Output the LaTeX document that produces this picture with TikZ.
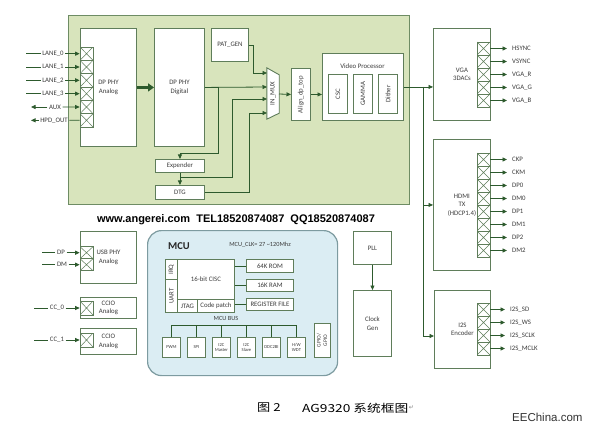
\documentclass[tikz,border=0pt]{standalone}
\usepackage{fontspec}
\setmainfont{Carlito}
\newfontfamily\wmfont{Liberation Sans}
\newfontfamily\cjk{Noto Sans CJK SC}
\newfontfamily\symfont{DejaVu Sans}
\usetikzlibrary{arrows.meta}
\definecolor{boxc}{RGB}{95,125,90}
\definecolor{arrc}{RGB}{45,90,45}
\definecolor{greenfill}{RGB}{216,228,188}
\definecolor{greenedge}{RGB}{110,140,100}
\definecolor{mcufill}{RGB}{219,237,243}
\definecolor{mcuedge}{RGB}{125,155,160}
\definecolor{txt}{RGB}{60,60,60}
\tikzset{
  blk/.style={draw=boxc, fill=white, line width=0.9pt, anchor=north west, inner sep=0pt,
    align=center, font=\fontsize{6.8}{8.5}\selectfont, text=txt},
  cell/.style={draw=boxc, fill=white, line width=0.7pt, minimum width=13pt, minimum height=#1,
    inner sep=0pt, path picture={\draw[boxc, line width=0.5pt]
      (path picture bounding box.north west) -- (path picture bounding box.south east)
      (path picture bounding box.north east) -- (path picture bounding box.south west);}},
  cell/.default=13pt,
  arr/.style={draw=arrc, line width=0.8pt, -{Triangle[length=4.5pt,width=4pt]}},
  ln/.style={draw=arrc, line width=0.8pt},
  lbl/.style={font=\fontsize{6.8}{8}\selectfont, text=txt, inner xsep=1.5pt, inner ysep=1pt},
  rlbl/.style={lbl, anchor=west, inner xsep=5pt},
  tiny/.style={font=\fontsize{4.6}{5.4}\selectfont},
}
\newcommand\bx[7][]{\node[blk, minimum width={(#5-#3)*1pt}, minimum height={(#6-#4)*1pt}, #1] (#2) at (#3,#4) {#7};}
\begin{document}
\begin{tikzpicture}[x=1pt,y=-1pt]
\useasboundingbox[fill=white] (0,0) rectangle (593,430);

% ---------- main green block ----------
\bx[draw=greenedge, fill=greenfill, line width=1.4pt]{main}{68}{15}{409}{204}{}
\bx{pa}{80}{28}{136}{146}{DP PHY\\Analog}
\bx{pd}{154}{28}{204}{146}{DP PHY\\Digital}
\bx{pat}{211}{28}{248}{61}{PAT\_GEN}
\bx{exp}{155}{159}{204}{172}{Expender}
\bx{dtg}{155}{185}{204}{199}{DTG}
\bx{al}{291}{68}{310}{120}{\rotatebox{90}{Align\_dp\_top}}
\bx{vp}{322}{53}{403}{120}{}
\node[lbl] (vpt) at (362.5,66) {Video Processor};
\bx{csc}{328}{74}{347}{113}{\rotatebox{90}{CSC}}
\bx{gam}{353}{74}{372}{113}{\rotatebox{90}{GAMMA}}
\bx{dit}{378}{74}{397}{113}{\rotatebox{90}{Dither}}

% mux
\node[minimum width=12pt, minimum height=51pt, inner sep=0pt] (mux) at (273,93.5) {};
\draw[draw=boxc, fill=white, line width=0.9pt] (mux.north west) -- ([yshift=-7pt]mux.north east)
  -- ([yshift=6pt]mux.south east) -- (mux.south west) -- cycle;
\node[lbl, rotate=90] (muxt) at (mux.center) {IN\_MUX};
\coordinate (mi1) at (267,73);
\coordinate (mi2) at (267,87);
\coordinate (mi3) at (267,99);
\coordinate (mi4) at (267,113);
\coordinate (mo) at (279,94);

% DP PHY ports
\foreach \i in {0,...,5} \node[cell=13.33pt] (pc\i) at (86.5,{53.67+13.33*\i}) {};
\foreach \i/\t in {0/LANE\_0,1/LANE\_1,2/LANE\_2,3/LANE\_3}{
  \coordinate (ls\i) at (26,{53.67+13.33*\i});
  \node[lbl] (la\i) at (53,{53.67+13.33*\i}) {\t};
  \draw[ln] (ls\i) -- (la\i.west);
  \draw[arr] (la\i.east) -- (pc\i.west);
}
\node[lbl] (la4) at (55,107) {AUX};
\coordinate (ls4) at (31,107);
\draw[arr] (la4.west) -- (ls4);
\draw[arr] (la4.east) -- (pc4.west);
\node[lbl] (la5) at (54,120.33) {HPD\_OUT};
\coordinate (ls5) at (31,120.33);
\draw[arr] (la5.west) -- (ls5);
\draw[ln] (la5.east) -- (pc5.west);

% internal connections
\draw[draw=arrc, line width=2.3pt, -{Triangle[length=6pt,width=8pt]}] (pa.east) -- (pd.west);
\draw[arr] (pat.east) -| ([xshift=-14pt]mi1) -- (mi1);
\draw[arr] (pd.east) -- (mi2);
\coordinate (j1) at (218,87);
\draw[arr] (j1) |- ([yshift=6pt]exp.north) -- (exp.north);
\draw[arr] (exp.south) -- (dtg.north);
\coordinate (j2) at ([yshift=-5pt]exp.south);
\draw[arr] (j2) -| ([xshift=-35pt]mi3) -- (mi3);
\draw[arr] (dtg.east) -| ([xshift=-18pt]mi4) -- (mi4);
\draw[arr] (mo) -- (al.west);
\draw[arr] (al.east) -- (al.east -| vp.west);

% ---------- right side ----------
\bx{vga}{433}{28}{490}{120}{VGA\\3DACs}
\bx{hdmi}{433}{139}{490}{270}{HDMI\\TX\\(HDCP1.4)}
\bx{i2s}{434}{290}{490}{368}{I2S\\Encoder}
\coordinate (j3) at ([xshift=19pt]vp.east);
\coordinate (i2sin) at (434,336);
\draw[arr] (vp.east) -- (vp.east -| vga.west);
\draw[arr] (j3) |- (hdmi.west);
\draw[arr] (j3) |- (i2sin);

\foreach \i/\t in {0/HSYNC,1/VSYNC,2/VGA\_R,3/VGA\_G,4/VGA\_B}{
  \node[cell] (vc\i) at (483.5,{48.5+13*\i}) {};
  \node[rlbl] (vl\i) at (507,{48.5+13*\i}) {\t};
  \draw[arr] (vc\i.east) -- (vl\i.west);
}
\foreach \i/\t in {0/CKP,1/CKM,2/DP0,3/DM0,4/DP1,5/DM1,6/DP2,7/DM2}{
  \node[cell] (hc\i) at (483.5,{159.5+13*\i}) {};
  \node[rlbl] (hl\i) at (507,{159.5+13*\i}) {\t};
  \draw[arr] (hc\i.east) -- (hl\i.west);
}
\foreach \i/\t in {0/I2S\_SD,1/I2S\_WS,2/I2S\_SCLK,3/I2S\_MCLK}{
  \node[cell] (ic\i) at (483.5,{309.5+13*\i}) {};
  \node[rlbl] (il\i) at (505,{309.5+13*\i}) {\t};
  \draw[arr] (ic\i.east) -- (il\i.west);
}

% ---------- PLL / clock ----------
\bx{pll}{353}{231}{391}{264}{PLL}
\bx{clk}{353}{290}{391}{356}{Clock\\Gen}
\draw[arr] (pll.south) -- (clk.north);

% ---------- bottom left ----------
\bx{usb}{80}{231}{136}{283}{USB PHY\\Analog}
\bx{cc0}{80}{297}{136}{318}{CCIO\\Analog}
\bx{cc1}{80}{328}{136}{354}{CCIO\\Analog}
\node[cell=12pt] (uc0) at (86.5,252.7) {};
\node[cell=12pt] (uc1) at (86.5,264.7) {};
\node[cell=14pt] (ccc0) at (86.5,308) {};
\node[cell=14pt] (ccc1) at (86.5,340) {};
\foreach \n/\t/\y/\xs/\xl in {u0/DP/252.7/42/61, u1/DM/264.7/42/62, c0/CC\_0/308/34/57, c1/CC\_1/340/34/57}{
  \coordinate (s\n) at (\xs,\y);
  \node[lbl] (l\n) at (\xl,\y) {\t};
  \draw[ln] (s\n) -- (l\n.west);
}
\draw[arr] (lu0.east) -- (uc0.west);
\draw[arr] (lu1.east) -- (uc1.west);
\draw[arr] (lc0.east) -- (ccc0.west);
\draw[arr] (lc1.east) -- (ccc1.west);

% ---------- watermark ----------
\node[font=\wmfont\bfseries\fontsize{11}{13}\selectfont, text=black, inner sep=0pt] (wm) at (236,220)
  {www.angerei.com\ \ TEL18520874087\ \ QQ18520874087};

% ---------- MCU ----------
\bx[draw=mcuedge, fill=mcufill, line width=1.2pt, rounded corners=14pt]{mcu}{147}{230}{337}{375}{}
\node[font=\bfseries\fontsize{10.5}{12}\selectfont, text=black!85] (mcut) at (179,246) {MCU};
\node[lbl, font=\fontsize{6.3}{8}\selectfont] (clkt) at (260,245) {MCU\_CLK= 27 \textasciitilde120Mhz};
\bx{irq}{165}{259}{177}{279}{\rotatebox{90}{IRQ}}
\bx{uart}{165}{279}{177}{312}{\rotatebox{90}{UART}}
\bx{cisc}{177}{259}{234}{299}{16-bit CISC}
\bx{jtag}{177}{299}{197}{312}{JTAG}
\bx{cp}{197}{299}{234}{312}{Code patch}
\bx{rom}{246}{259}{293}{272}{64K ROM}
\bx{ram}{246}{279}{293}{291}{16K RAM}
\bx{reg}{246}{298}{293}{310}{REGISTER FILE}
\draw[ln] (rom.west -| cisc.east) -- (rom.west);
\draw[ln] (ram.west -| cisc.east) -- (ram.west);
\draw[ln] (reg.west -| cp.east) -- (reg.west);
\node[lbl, font=\fontsize{6.3}{8}\selectfont] (bust) at (226,318.5) {MCU BUS};
\bx[tiny]{pwm}{162}{337}{180}{357}{PWM}
\bx[tiny]{spi}{187}{337}{205}{357}{SPI}
\bx[tiny]{i2cm}{212}{337}{230}{357}{I2C\\Master}
\bx[tiny]{i2cs}{237}{337}{255}{357}{I2C\\Slave}
\bx[tiny]{ddc}{262}{337}{280}{357}{DDC2BI}
\bx[tiny]{wdt}{287}{337}{305}{357}{H/W\\WDT}
\bx[font=\fontsize{5.5}{6.5}\selectfont]{gpio}{314}{323}{330}{357}{\rotatebox{90}{\begin{tabular}{@{}c@{}}GPIO/\\GPIO\end{tabular}}}
\draw[ln] (pwm.north) -- ++(0,-12) -| (wdt.north);
\foreach \n in {spi,i2cm,i2cs,ddc} \draw[ln] (\n.north) -- ++(0,-12);

% ---------- caption ----------
\node[font=\cjk\fontsize{11}{13}\selectfont, anchor=west, inner sep=0pt] (cap1) at (257,408) {\scalebox{1.2}[1]{图 2}};
\node[font=\cjk\fontsize{11}{13}\selectfont, anchor=west, inner sep=0pt] (cap2) at (302,408) {\scalebox{1.25}[1]{AG9320 系统框图}};
\node[font=\symfont\fontsize{6}{7}\selectfont, text=gray, anchor=west, inner sep=0pt] (ret) at (cap2.east) {↵};
\node[font=\wmfont\fontsize{11.5}{13}\selectfont, text=black!80, anchor=west, inner sep=0pt] (eec) at (512,417) {EEChina.com};
\end{tikzpicture}
\end{document}
